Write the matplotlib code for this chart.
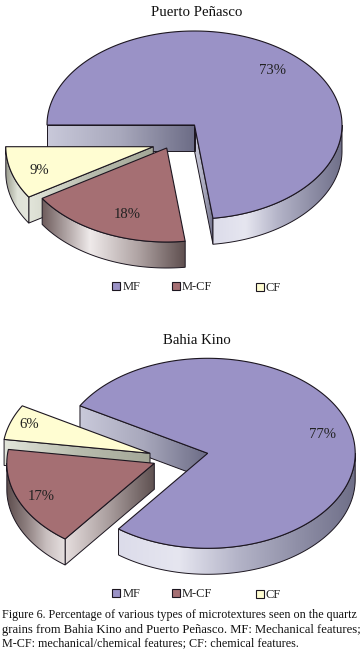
import numpy as np
import matplotlib
matplotlib.use("Agg")
import matplotlib.pyplot as plt
from matplotlib.colors import LinearSegmentedColormap
from matplotlib.patches import Polygon, Rectangle

plt.rcParams['font.family'] = ['Liberation Serif', 'DejaVu Serif']

categories = ["MF", "M-CF", "CF"]
puerto_values = [73, 18, 9]
kino_values = [77, 17, 6]
titles = ["Puerto Peñasco", "Bahia Kino"]
caption_lines = [
    "Figure 6. Percentage of various types of microtextures seen on the quartz",
    "grains from Bahia Kino and Puerto Peñasco. MF: Mechanical features;",
    "M-CF: mechanical/chemical features; CF: chemical features.",
]

TOP = {"MF": "#9a92c6", "M-CF": "#a56f73", "CF": "#fffdd2"}
EDGE = "#1c1620"
RX, THICK = 147.5, 26

# outer wall gradient stops (left to right) and cut-wall stops
OUTER = {
    "MF": ["#dcdcea", "#e6e6f0", "#b4b4c8", "#9090a8", "#6f6f88"],
    "M-CF": ["#6e5c5c", "#efeaea", "#b0a4a4", "#5e4e4e"],
    "CF": ["#9c9e90", "#dfe2d8", "#e4e6dc"],
}
OUTER_KINO_MCF = ["#5e4e4e", "#8e8080", "#c8bebe", "#e8e2e2"]
CUT = {
    "MF": ["#c9c9da", "#a8a8bc", "#6c6c86"],
    "M-CF": ["#e6dede", "#a89c9c", "#5e5050"],
    "CF": ["#e2e5da", "#b8bcae", "#a4a898"],
}

fig = plt.figure(figsize=(3.62, 6.51), dpi=100)
ax = fig.add_axes([0, 0, 1, 1])
ax.set_axis_off()


def pt(c, ry, deg, rx=RX):
    a = np.radians(deg)
    return np.array([c[0] + rx * np.cos(a), c[1] - ry * np.sin(a)])


def arc(c, ry, a0, a1):
    n = max(int(abs(a1 - a0)) * 2, 2)
    return np.array([pt(c, ry, a) for a in np.linspace(a0, a1, n)])


def shaded(pts, stops, z):
    pts = np.asarray(pts)
    cmap = LinearSegmentedColormap.from_list("g", stops)
    x0, x1 = pts[:, 0].min(), pts[:, 0].max()
    y0, y1 = pts[:, 1].min(), pts[:, 1].max()
    im = ax.imshow(np.linspace(0, 1, 256)[None, :], cmap=cmap, aspect="auto",
                   extent=(x0, x1, y1, y0), zorder=z, interpolation="bilinear")
    clip = Polygon(pts, closed=True, transform=ax.transData, fc="none", ec="none")
    ax.add_patch(clip)
    im.set_clip_path(clip)
    ax.add_patch(Polygon(pts, closed=True, fc="none", ec=EDGE, lw=0.7, zorder=z + 0.1))


def slice3d(name, c, ry, start, sweep, z, outer):
    end = start - sweep
    down = np.array([0, THICK])
    # radial walls: drawn only when their outward side faces the viewer
    for deg, sign in ((start, 1), (end, -1)):
        if -sign * np.cos(np.radians(deg)) > 1e-6:
            tip = pt(c, ry, deg)
            shaded([c, tip, tip + down, np.array(c) + down], CUT[name], z)
    # outer wall: lower half of the ellipse only
    lo, hi = max(end, -180), min(start, 0)
    if lo < hi:
        front = arc(c, ry, hi, lo)
        shaded(np.vstack([front, (front + down)[::-1]]), outer.get(name, OUTER[name]), z + 0.2)
    top = np.vstack([[c], arc(c, ry, start, end)])
    ax.add_patch(Polygon(top, closed=True, fc=TOP[name], ec=EDGE, lw=0.8, zorder=z + 0.4))


def pie(values, start, ry, centers, order, outer=None):
    angle = start
    spans = {}
    for name, v in zip(categories, values):
        spans[name] = (angle, v * 3.6)
        angle -= v * 3.6
    for z, name in enumerate(order):
        slice3d(name, centers[name], ry, *spans[name], 2 + z, outer or {})


pie(puerto_values, 180, 94,
    {"MF": (194.5, 125), "M-CF": (166.7, 148), "CF": (153.3, 146.7)},
    ["MF", "CF", "M-CF"])
pie(kino_values, 150, 95,
    {"MF": (207.7, 453.3), "M-CF": (154.3, 463.3), "CF": (150, 453.3)},
    ["MF", "CF", "M-CF"], {"M-CF": OUTER_KINO_MCF})

# percentage labels
for xy, v in zip([(272, 71), (127, 215), (39, 170)], puerto_values):
    ax.text(*xy, f"{v}%", fontsize=10.6, ha="center", va="center", color="#222", zorder=20)
for xy, v in zip([(322, 434), (41, 496), (29, 424)], kino_values):
    ax.text(*xy, f"{v}%", fontsize=10.6, ha="center", va="center", color="#222", zorder=20)

# titles
ax.text(197, 12, titles[0], fontsize=10.7, ha="center", va="center", color="#111")
ax.text(197, 341, titles[1], fontsize=10.7, ha="center", va="center", color="#111")

# legends
for ly in (286, 593):
    for name, sx, tx, dy in zip(categories, (112.3, 171.5, 256), (123, 182, 266), (0, 0, 0.8)):
        ax.add_patch(Rectangle((sx, ly - 4.2 + dy), 8, 8, fc=TOP[name], ec=EDGE, lw=0.8))
        ax.text(tx, ly + dy + 1, name, fontsize=9, ha="left", va="center", color="#222")

# caption
for y, line, size in zip((618, 632.5, 646.5), caption_lines, (8.74, 9.05, 8.76)):
    ax.text(2, y, line, fontsize=size, ha="left", va="baseline", color="#111")

ax.set_xlim(0, 362)
ax.set_ylim(651, 0)
fig.savefig("out.png", dpi=100)
